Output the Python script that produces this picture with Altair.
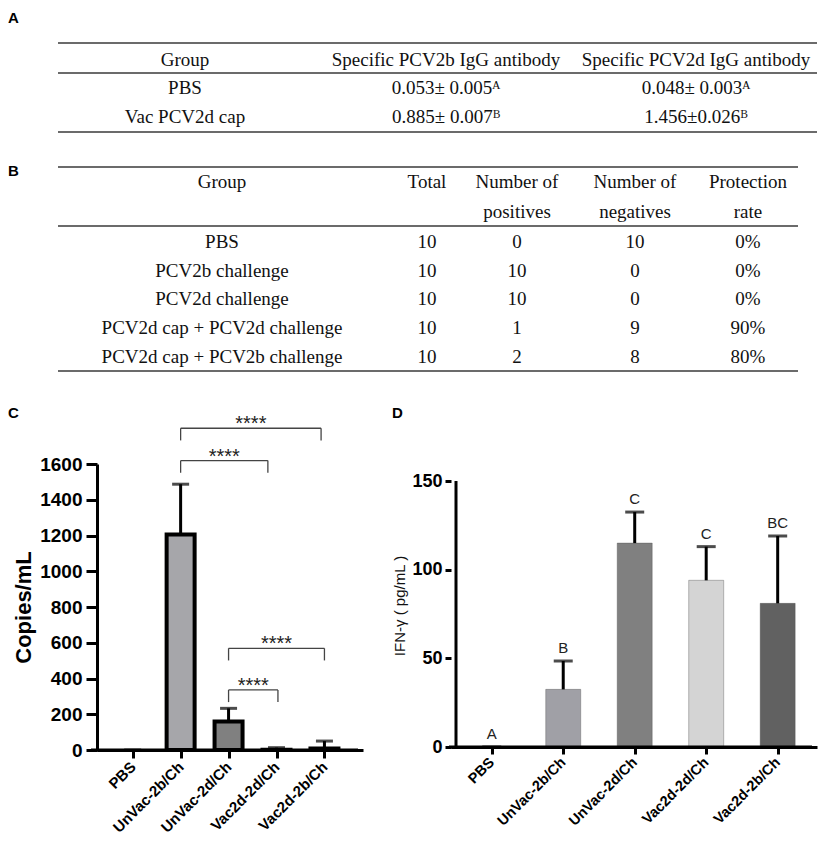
import json
import altair as alt
import pandas as pd

SERIF = "Liberation Serif"
SANS = "Liberation Sans"

# ---------------- Table A ----------------
a_header = ["Group", "Specific PCV2b IgG antibody", "Specific PCV2d IgG antibody"]
a_group = ["PBS", "Vac PCV2d cap"]
a_pcv2b = ["0.053\u00b1 0.005\u1d2c", "0.885\u00b1 0.007\u1d2e"]
a_pcv2d = ["0.048\u00b1 0.003\u1d2c", "1.456\u00b10.026\u1d2e"]

# ---------------- Table B ----------------
b_header1 = ["Group", "Total", "Number of", "Number of", "Protection"]
b_header2 = ["", "", "positives", "negatives", "rate"]
b_group = ["PBS", "PCV2b challenge", "PCV2d challenge",
           "PCV2d cap + PCV2d challenge", "PCV2d cap + PCV2b challenge"]
b_total = [10, 10, 10, 10, 10]
b_pos = [0, 10, 10, 1, 2]
b_neg = [10, 0, 0, 9, 8]
b_rate = ["0%", "0%", "0%", "90%", "80%"]

# ---------------- Panel C ----------------
groups = ["PBS", "UnVac-2b/Ch", "UnVac-2d/Ch", "Vac2d-2d/Ch", "Vac2d-2b/Ch"]
c_mean = [0, 1205, 160, 1, 8]
c_sd = [0, 282, 73, 12, 42]
c_fill = ["#ffffff", "#a6a6aa", "#808080", "#9a9a9a", "#9a9a9a"]
sig_from = [1, 1, 2, 2]
sig_to = [3.93, 2.82, 4.0, 3.03]
sig_y = [1800, 1619, 569, 336]
sig_text = ["****", "****", "****", "****"]

# ---------------- Panel D ----------------
d_mean = [0, 32.5, 115, 94, 81]
d_sd = [0, 16, 17.5, 19, 38]
d_letters = ["A", "B", "C", "C", "BC"]
d_fill = ["#ffffff", "#a0a0a6", "#808080", "#d4d4d4", "#616161"]

one = pd.DataFrame({"k": [0]})


def hrule(y, x1, x2):
    return alt.Chart(one).mark_rule(color="#3a3a3a", strokeWidth=1.6).encode(
        x=alt.value(x1), x2=alt.value(x2), y=alt.value(y))


def panel_label(txt, x, y):
    return alt.Chart(one).mark_text(
        text=txt, font=SANS, fontWeight="bold", fontSize=15, align="left",
        baseline="top", color="black").encode(x=alt.value(x), y=alt.value(y))


def table_text(records, xs, ys):
    df = pd.DataFrame(records)
    return alt.Chart(df).mark_text(font=SERIF, fontSize=19, color="#111",
                                   baseline="middle").encode(
        x=alt.X("col:Q", scale=alt.Scale(domain=list(range(len(xs))), range=xs,
                                         nice=False, zero=False), axis=None),
        y=alt.Y("row:Q", scale=alt.Scale(domain=list(range(len(ys))), range=ys,
                                         nice=False, zero=False), axis=None),
        text="text:N")


# Table A  (plot origin shares the x of panel C's plot area)
rec_a = []
for r, row in enumerate([a_header] + [list(t) for t in zip(a_group, a_pcv2b, a_pcv2d)]):
    for c, t in enumerate(row):
        rec_a.append({"row": r, "col": c, "text": t})
table_a = alt.layer(
    table_text(rec_a, [88, 349, 599], [52, 80, 109]),
    hrule(35, -39, 720), hrule(65, -39, 720), hrule(124, -39, 720),
    panel_label("A", -89, 3),
).properties(width=716, height=132)

# Table B
rec_b = []
b_rows = [b_header1, b_header2] + [
    [g, str(t), str(p), str(n), rt] for g, t, p, n, rt in zip(b_group, b_total, b_pos, b_neg, b_rate)]
for r, row in enumerate(b_rows):
    for c, t in enumerate(row):
        if t != "":
            rec_b.append({"row": r, "col": c, "text": t})
table_b = alt.layer(
    table_text(rec_b, [125, 330, 420, 538, 651], [42, 72, 102, 130.5, 159, 188, 217]),
    hrule(27, -39, 701), hrule(86, -39, 701), hrule(231, -39, 701),
    panel_label("B", -89, 24),
).properties(width=716, height=266)

label_expr = json.dumps(groups) + "[datum.value]"


def x_axis(size, tick):
    return alt.Axis(values=[0, 1, 2, 3, 4], labelExpr=label_expr, labelAngle=-45,
                    labelAlign="right", labelBaseline="middle", labelFont=SANS,
                    labelFontWeight="bold", labelFontSize=size, labelColor="black",
                    labelPadding=6, tickSize=tick, tickWidth=3, tickColor="black",
                    domainWidth=3, domainColor="black", grid=False, title=None,
                    labelOverlap=False)


# Panel C
C_AXIS = alt.Axis(values=[0, 200, 400, 600, 800, 1000, 1200, 1400, 1600], format="d",
                  labelFont=SANS, labelFontWeight="bold", labelFontSize=19,
                  labelColor="black", labelPadding=4, tickSize=11, tickWidth=3,
                  tickColor="black", domainWidth=3, domainColor="black", grid=False,
                  title="Copies/mL", titleFont=SANS, titleFontSize=22,
                  titleFontWeight="bold", titleColor="black", titlePadding=4,
                  labelOverlap=False)
C_YSCALE = alt.Scale(domain=[0, 1600], nice=False, zero=False)
C_XSCALE = alt.Scale(domain=[-0.64, 4.70], nice=False, zero=False)


def yc(field):
    return alt.Y(field, scale=C_YSCALE, axis=C_AXIS)


def xc(field):
    return alt.X(field, scale=C_XSCALE, axis=x_axis(15, 8))


c_df = pd.DataFrame({"idx": list(range(5)), "group": groups, "mean": c_mean, "sd": c_sd})
c_base = alt.Chart(c_df).transform_calculate(upper="datum.mean + datum.sd")
c_bars = c_base.mark_bar(size=28, stroke="black", strokeWidth=4).encode(
    x=xc("idx:Q"), y=yc("mean:Q"),
    fill=alt.Fill("group:N", scale=alt.Scale(domain=groups, range=c_fill), legend=None),
    strokeOpacity=alt.condition("datum.mean > 0", alt.value(1), alt.value(0)))
c_err = c_base.mark_rule(color="black", strokeWidth=3).encode(
    x=xc("idx:Q"), y=yc("mean:Q"), y2="upper:Q")
c_cap = c_base.mark_tick(orient="horizontal", size=17, thickness=3, color="black").encode(
    x=xc("idx:Q"), y=yc("upper:Q"))
c_base_line = alt.Chart(one).transform_calculate(x0="-0.64", x1="4.70", y0="0").mark_rule(
    color="black", strokeWidth=3, xOffset=-11).encode(x=xc("x0:Q"), x2="x1:Q", y=yc("y0:Q"))

sig_df = pd.DataFrame({"x1": sig_from, "x2": sig_to, "y": sig_y, "label": sig_text})
sig_base = alt.Chart(sig_df).transform_calculate(
    leg="datum.y - 68", mid="(datum.x1 + datum.x2) / 2")
sig_h = sig_base.mark_rule(color="#444", strokeWidth=1.3).encode(
    x=xc("x1:Q"), x2="x2:Q", y=yc("y:Q"))
sig_l = sig_base.mark_rule(color="#444", strokeWidth=1.3).encode(
    x=xc("x1:Q"), y=yc("y:Q"), y2="leg:Q")
sig_r = sig_base.mark_rule(color="#444", strokeWidth=1.3).encode(
    x=xc("x2:Q"), y=yc("y:Q"), y2="leg:Q")
sig_t = sig_base.mark_text(font=SANS, fontSize=20, baseline="alphabetic", dy=2,
                           color="#222").encode(x=xc("mid:Q"), y=yc("y:Q"), text="label:N")

chart_c = alt.layer(c_bars, c_err, c_cap, c_base_line, sig_h, sig_l, sig_r, sig_t,
                    panel_label("C", -89, -58)).properties(width=266, height=286)

# Panel D (plot top shares panel C's; y axis line drawn only up to 150)
D_AXIS = alt.Axis(values=[0, 50, 100, 150], labelFont=SANS, labelFontWeight="bold",
                  labelFontSize=18, labelColor="black", labelPadding=3, tickSize=6,
                  tickWidth=3, tickColor="black", domain=False, grid=False,
                  title="IFN-\u03b3 ( pg/mL )", titleFont=SANS, titleFontSize=15,
                  titleFontWeight="normal", titleColor="#111", titlePadding=4,
                  labelOverlap=False)
D_YSCALE = alt.Scale(domain=[0, 159.6], nice=False, zero=False)
D_XSCALE = alt.Scale(domain=[-0.5, 4.48], nice=False, zero=False)


def yd(field):
    return alt.Y(field, scale=D_YSCALE, axis=D_AXIS)


def xd(field):
    return alt.X(field, scale=D_XSCALE, axis=x_axis(14.5, 7))


d_df = pd.DataFrame({"idx": list(range(5)), "group": groups, "mean": d_mean,
                     "sd": d_sd, "letter": d_letters})
d_base = alt.Chart(d_df).transform_calculate(upper="datum.mean + datum.sd")
d_bars = d_base.mark_bar(size=35, stroke="#4a4a4a", strokeWidth=0.6).encode(
    x=xd("idx:Q"), y=yd("mean:Q"),
    fill=alt.Fill("group:N", scale=alt.Scale(domain=groups, range=d_fill), legend=None),
    strokeOpacity=alt.condition("datum.mean > 0", alt.value(0.6), alt.value(0)))
d_err = d_base.mark_rule(color="black", strokeWidth=3).encode(
    x=xd("idx:Q"), y=yd("mean:Q"), y2="upper:Q")
d_cap = d_base.mark_tick(orient="horizontal", size=19, thickness=3, color="black").encode(
    x=xd("idx:Q"), y=yd("upper:Q"))
d_txt = d_base.mark_text(font=SANS, fontSize=15, baseline="middle", dy=-13,
                         color="#222").encode(x=xd("idx:Q"), y=yd("upper:Q"), text="letter:N")
d_yline = alt.Chart(one).transform_calculate(x0="-0.5", y0="0", y1="150").mark_rule(
    color="black", strokeWidth=3).encode(x=xd("x0:Q"), y=yd("y0:Q"), y2="y1:Q")
d_xline = alt.Chart(one).transform_calculate(x0="-0.5", x1="4.48", y0="0").mark_rule(
    color="black", strokeWidth=3, xOffset=-7).encode(x=xd("x0:Q"), x2="x1:Q", y=yd("y0:Q"))

chart_d = alt.layer(d_bars, d_err, d_cap, d_txt, d_yline, d_xline,
                    panel_label("D", -59, -58)).properties(width=366, height=283)

row3 = alt.hconcat(chart_c, chart_d, spacing=29).resolve_scale(
    fill="independent", x="independent", y="independent", strokeOpacity="independent")

chart = alt.vconcat(table_a, table_b, row3, spacing=0).properties(
    padding=0, background="white"
).configure_view(strokeWidth=0)

chart.save("out.html", embed_options={"renderer": "svg", "actions": False})
